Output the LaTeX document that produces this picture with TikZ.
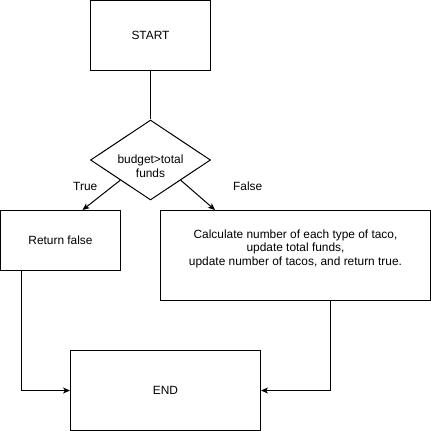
\documentclass[tikz,border=0pt]{standalone}
\usepackage{fontspec}
\setmainfont{Liberation Sans}
\usetikzlibrary{arrows, arrows.meta, positioning, shapes}
\tikzset{
        >={Stealth[length=7pt,width=6pt,inset=2pt]}, % arrow heads like the drawing
        x=1pt, y=-1pt, % one unit is one pixel, y runs down
        every node/.style={font=\fontsize{11.9}{13.5}\selectfont,align=center},
    }
\tikzstyle{block}=[draw,rectangle,line width=1pt,inner sep=0pt]
\tikzstyle{decision}=[draw,diamond,line width=1pt,inner sep=0pt,shape aspect=1.5,minimum width=120pt,minimum height=80pt]
\tikzstyle{link}=[draw,line width=1pt]

\begin{document}
\begin{tikzpicture}
    \useasboundingbox (0,0) rectangle (431,431);
    \node[block,minimum width=120pt,minimum height=70pt] (start) at (150.5,35.5) {START};
    \node[decision] (check) at (150.5,160) {};
    \node at ([yshift=-6pt]check.center) (checktext) {budget>total\\funds};
    \node[block,minimum width=120pt,minimum height=60pt] (retfalse) at (60.5,240.5) {Return false};
    \node[block,minimum width=270pt,minimum height=90pt] (calc) at (295.5,255.5) {};
    \node at ([yshift=7pt]calc.center) (calctext) {Calculate number of each type of taco,\\update total funds,\\update number of tacos, and return true.};
    \node[block,minimum width=190pt,minimum height=80pt] (finish) at (165.5,390.5) {END};
    \node at ([xshift=-35pt,yshift=-6pt]check.south west) (truelabel) {True};
    \node at ([xshift=67pt,yshift=-6pt]check.south east) (falselabel) {False};

    % edges
    \draw[link] (start) -- (check);
    \draw[link,->] (check.south west) -- ([xshift=22pt]retfalse.north);
    \draw[link,->] (check.south east) -- ([xshift=55pt]calc.north west);
    \draw[link,->] ([xshift=-39pt]retfalse.south) |- (finish.west);
    \draw[link,->] ([xshift=35pt]calc.south) |- (finish.east);
\end{tikzpicture}
\end{document}
